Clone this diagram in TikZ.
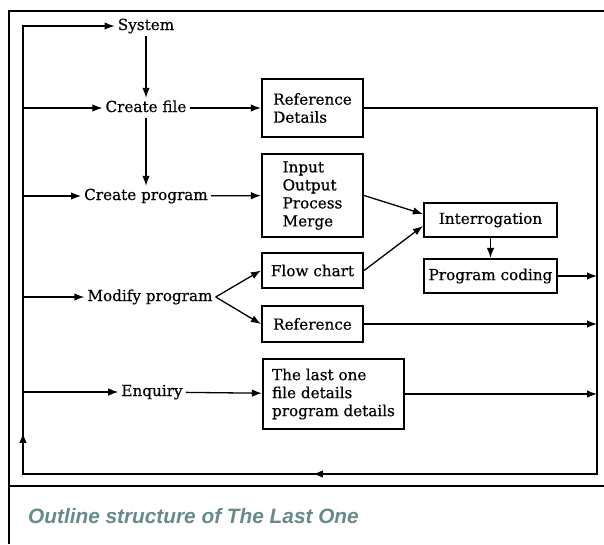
\documentclass[tikz,border=0pt]{standalone}
\usepackage{fontspec}
\setmainfont{DejaVu Serif}[FakeBold=0.5]
\newfontfamily\capfont{Liberation Sans}
\usetikzlibrary{positioning, arrows.meta, decorations.markings}
\definecolor{capgrey}{RGB}{104,138,138}

\begin{document}
\begin{tikzpicture}[
  x=1pt, y=-1pt,
  every node/.style={font=\fontsize{15.2}{18}\selectfont},
  lbl/.style={inner sep=3pt, text height=11pt, text depth=3pt},
  bx/.style={draw, line width=2.2pt, align=left, inner sep=0pt, minimum width=101pt},
  ar/.style={-{Latex[length=10pt,width=7.5pt]}, line width=1.3pt},
  loop/.style={line width=1.3pt, postaction={decorate, decoration={markings,
      mark=at position 883pt with {\arrow{Latex[length=10pt,width=7.5pt]}},
      mark=at position 1214pt with {\arrow{Latex[length=10pt,width=7.5pt]}}}}},
]
\useasboundingbox (0,0) rectangle (604,544);

% outer frame and caption
\draw[line width=2.6pt] (604,11) -- (9,11) -- (9,544);
\draw[line width=2.6pt] (9,486) -- (604,486);
\node[anchor=base west, inner sep=0pt, text=capgrey,
  font=\capfont\fontsize{20.8}{22}\selectfont\bfseries\itshape] (cap) at (28,523)
  {Outline structure of The Last One};

% left column - menu items
\node[lbl] (sys)   at (146,26)  {System};
\node[lbl] (cfile) at (146,108) {Create file};
\node[lbl] (cprog) at (146,196) {Create program};
\node[lbl] (mprog) at (150,297) {Modify program};
\node[lbl] (enq)   at (152,392) {Enquiry};

% middle column - boxes
\node[bx, minimum height=58pt] (refd) at (312.5,108)   {Reference\\Details};
\node[bx, minimum height=83pt] (iopm) at (312.5,195.5) {Input\\Output\\Process\\Merge};
\node[bx, minimum height=35pt] (flow) at (312.5,270.5) {Flow chart};
\node[bx, minimum height=36pt] (ref)  at (312.5,324)   {Reference};
\node[bx, minimum height=70pt, minimum width=141pt] (last) at (333.5,394)
  {The last one\\file details\\program details};

% right column
\node[bx, minimum height=34pt, minimum width=133pt, align=center] (intr)  at (490.5,220) {Interrogation};
\node[bx, minimum height=34pt, minimum width=133pt, align=center] (pcode) at (490.5,276) {Program coding};

% loop corners
\coordinate (ltop) at (23,26);
\coordinate (lbot) at (23,474);
\coordinate (rtop) at (597,108);
\coordinate (rbot) at (597,474);

% feedback loop back to System
\draw[ar, loop] (refd.east) -- (rtop) -- (rbot) -- (lbot) -- (ltop) -- (sys);

% entries from the loop
\draw[ar] (ltop |- cfile) -- (cfile);
\draw[ar] (ltop |- cprog) -- (cprog);
\draw[ar] (ltop |- mprog) -- (mprog);
\draw[ar] (ltop |- enq) -- (enq);

% downwards
\draw[ar] (sys) -- (cfile);
\draw[ar] (cfile) -- (cprog);

% into the boxes
\draw[ar] (cfile) -- (refd);
\draw[ar] (cprog) -- (iopm);
\draw[ar] (mprog.east) -- (flow.west);
\draw[ar] (mprog.east) -- (ref.west);
\draw[ar] (enq) -- (last);

\draw[ar] (iopm.east) -- ([yshift=6pt]intr.west);
\draw[ar] (flow.east) -- ([yshift=-6pt]intr.west);
\draw[ar] (intr) -- (pcode);

% back to the loop
\draw[ar] (pcode) -- (pcode -| rtop);
\draw[ar] (ref) -- (ref -| rtop);
\draw[ar] (last) -- (last -| rtop);
\end{tikzpicture}
\end{document}
